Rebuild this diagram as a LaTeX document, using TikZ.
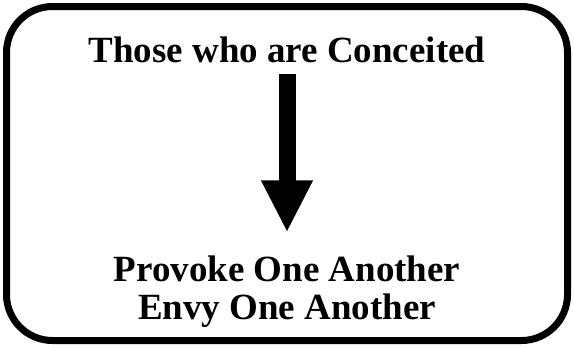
\documentclass[tikz,border=0pt]{standalone}
\usepackage{fontspec}
\setmainfont{Liberation Serif}
\usetikzlibrary{arrows.meta,positioning}

\begin{document}
\begin{tikzpicture}[
  frame/.style={draw, line width=0.175cm, rounded corners=1.15cm},
  lbl/.style={align=center, inner sep=0pt, font=\bfseries\fontsize{26.3}{27.2}\selectfont},
  bigarr/.style={-{Triangle[length=1.3cm, width=1.2cm]}, line width=0.425cm}
]
\useasboundingbox (0,0) rectangle (14.35,8.675);
\draw[frame] (0.1625,0.1625) rectangle (14.1875,8.5125);

\node[lbl] (top) at (7.175,7.42) {Those who are Conceited};
\node[lbl] (bot) at (7.175,1.38) {Provoke One Another\\Envy One Another};

\draw[bigarr, shorten <=0.27cm, shorten >=0.58cm] (top) -- (bot);
\end{tikzpicture}
\end{document}
